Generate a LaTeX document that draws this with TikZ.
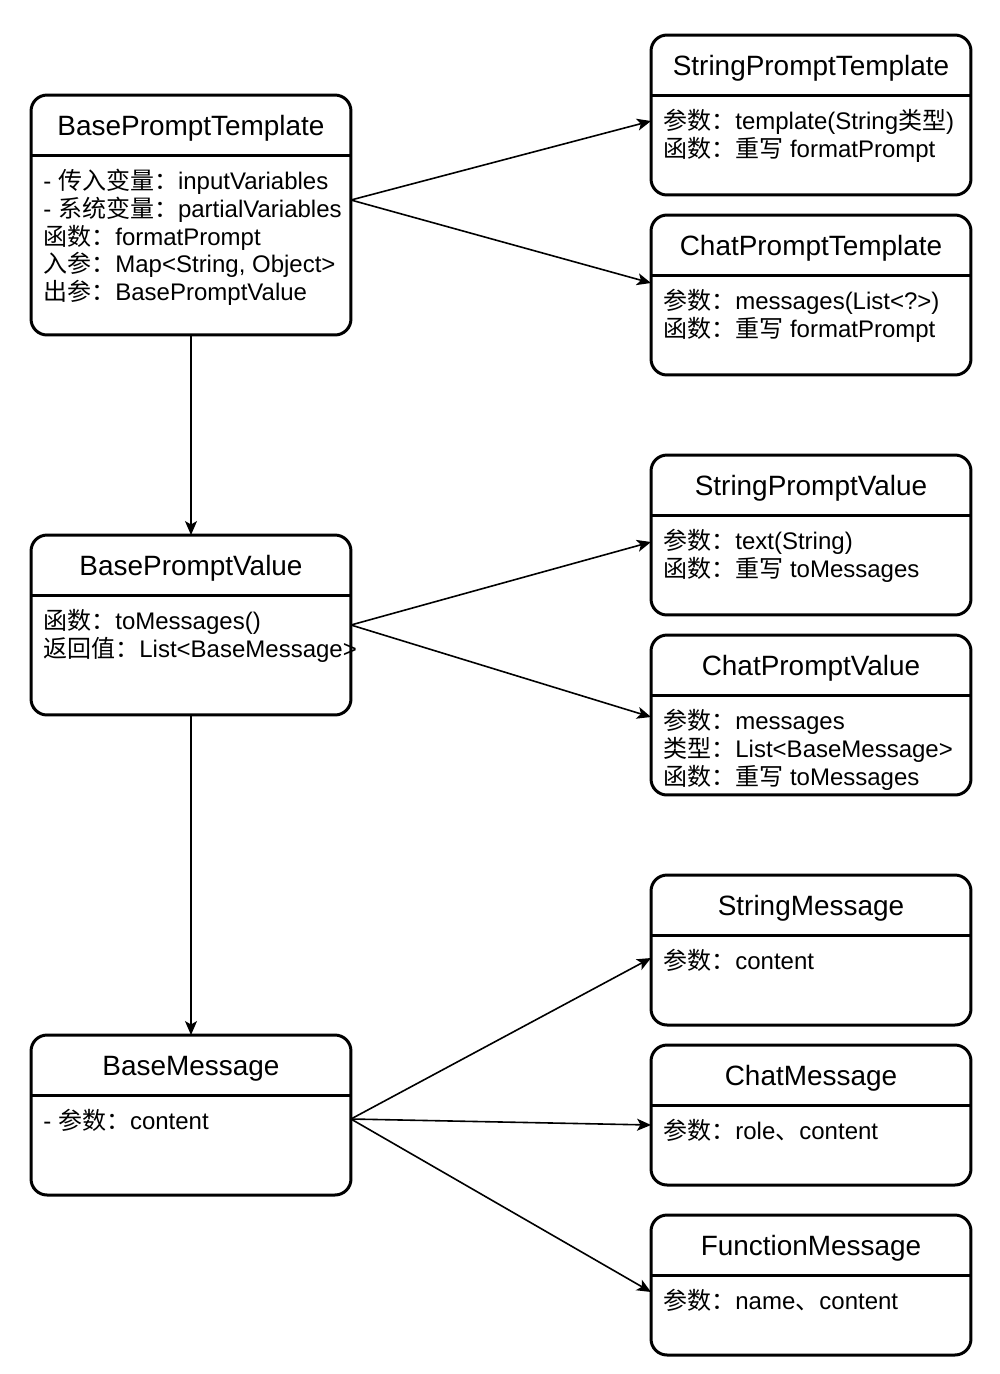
\documentclass[tikz,border=0pt]{standalone}
\usepackage{fontspec}
\setmainfont{Liberation Sans}
\newfontfamily\cnfont{Noto Sans CJK SC}
\newcommand{\cn}[1]{{\cnfont #1}}
\usetikzlibrary{arrows.meta}

\tikzset{
  classbox/.style={draw, line width=0.06cm, rounded corners=0.32cm, minimum width=6.4cm, outer sep=0pt, inner sep=0pt},
  classline/.style={line width=0.06cm},
  classtitle/.style={anchor=base, inner sep=0pt, font=\fontsize{15.9}{19}\selectfont},
  classtext/.style={anchor=base west, inner sep=0pt, font=\fontsize{13.66}{16}\selectfont},
  arr/.style={-{Stealth[length=0.28cm,width=0.24cm,inset=0.07cm]}, line width=0.032cm}
}

% name, centre, height, title, lines
\newcommand{\umlclass}[5]{%
  \node[classbox, minimum height=#3] (#1) at (#2) {};
  \draw[classline] ([yshift=-1.2cm]#1.north west) -- ([yshift=-1.2cm]#1.north east);
  \node[classtitle] (#1-title) at ([yshift=-0.8cm]#1.north) {#4};
  \foreach \ln [count=\i] in {#5}
    \node[classtext] (#1-l\i) at ([xshift=0.24cm, yshift={-1.88cm-(\i-1)*0.56cm}]#1.north west) {\ln};
}

\begin{document}
\begin{tikzpicture}[x=0.02cm, y=-0.02cm]
  \fill[white] (0,0) rectangle (1000,1374);
  \useasboundingbox (0,0) rectangle (1000,1374);

  % left column
  \umlclass{bpt}{191,215}{4.8cm}{BasePromptTemplate}{%
    {- \cn{传入变量：}inputVariables},
    {- \cn{系统变量：}partialVariables},
    {\cn{函数：}formatPrompt},
    {\cn{入参：}Map<String, Object>},
    {\cn{出参：}BasePromptValue}}
  \umlclass{bpv}{191,625}{3.6cm}{BasePromptValue}{%
    {\cn{函数：}toMessages()},
    {\cn{返回值：}List<BaseMessage>}}
  \umlclass{bm}{191,1115}{3.2cm}{BaseMessage}{%
    {- \cn{参数：}content}}

  % right column
  \umlclass{spt}{811,115}{3.2cm}{StringPromptTemplate}{%
    {\cn{参数：}template(String\cn{类型})},
    {\cn{函数：重写} formatPrompt}}
  \umlclass{cpt}{811,295}{3.2cm}{ChatPromptTemplate}{%
    {\cn{参数：}messages(List<?>)},
    {\cn{函数：重写} formatPrompt}}
  \umlclass{spv}{811,535}{3.2cm}{StringPromptValue}{%
    {\cn{参数：}text(String)},
    {\cn{函数：重写} toMessages}}
  \umlclass{cpv}{811,715}{3.2cm}{ChatPromptValue}{%
    {\cn{参数：}messages},
    {\cn{类型：}List<BaseMessage>},
    {\cn{函数：重写} toMessages}}
  \umlclass{sm}{811,950}{3.0cm}{StringMessage}{%
    {\cn{参数：}content}}
  \umlclass{cm}{811,1115}{2.8cm}{ChatMessage}{%
    {\cn{参数：}role\cn{、}content}}
  \umlclass{fm}{811,1285}{2.8cm}{FunctionMessage}{%
    {\cn{参数：}name\cn{、}content}}

  % connectors
  \draw[arr] (bpt.south) -- (bpv.north);
  \draw[arr] (bpv.south) -- (bm.north);
  \draw[arr] ([yshift=0.3cm]bpt.east) -- ([yshift=-0.12cm]spt.west);
  \draw[arr] ([yshift=0.3cm]bpt.east) -- ([yshift=0.24cm]cpt.west);
  \draw[arr] (bpv.east) -- ([yshift=-0.14cm]spv.west);
  \draw[arr] (bpv.east) -- ([yshift=-0.04cm]cpv.west);
  \draw[arr] ([yshift=-0.08cm]bm.east) -- ([yshift=-0.16cm]sm.west);
  \draw[arr] ([yshift=-0.08cm]bm.east) -- ([yshift=-0.2cm]cm.west);
  \draw[arr] ([yshift=-0.08cm]bm.east) -- ([yshift=-0.14cm]fm.west);
\end{tikzpicture}
\end{document}
